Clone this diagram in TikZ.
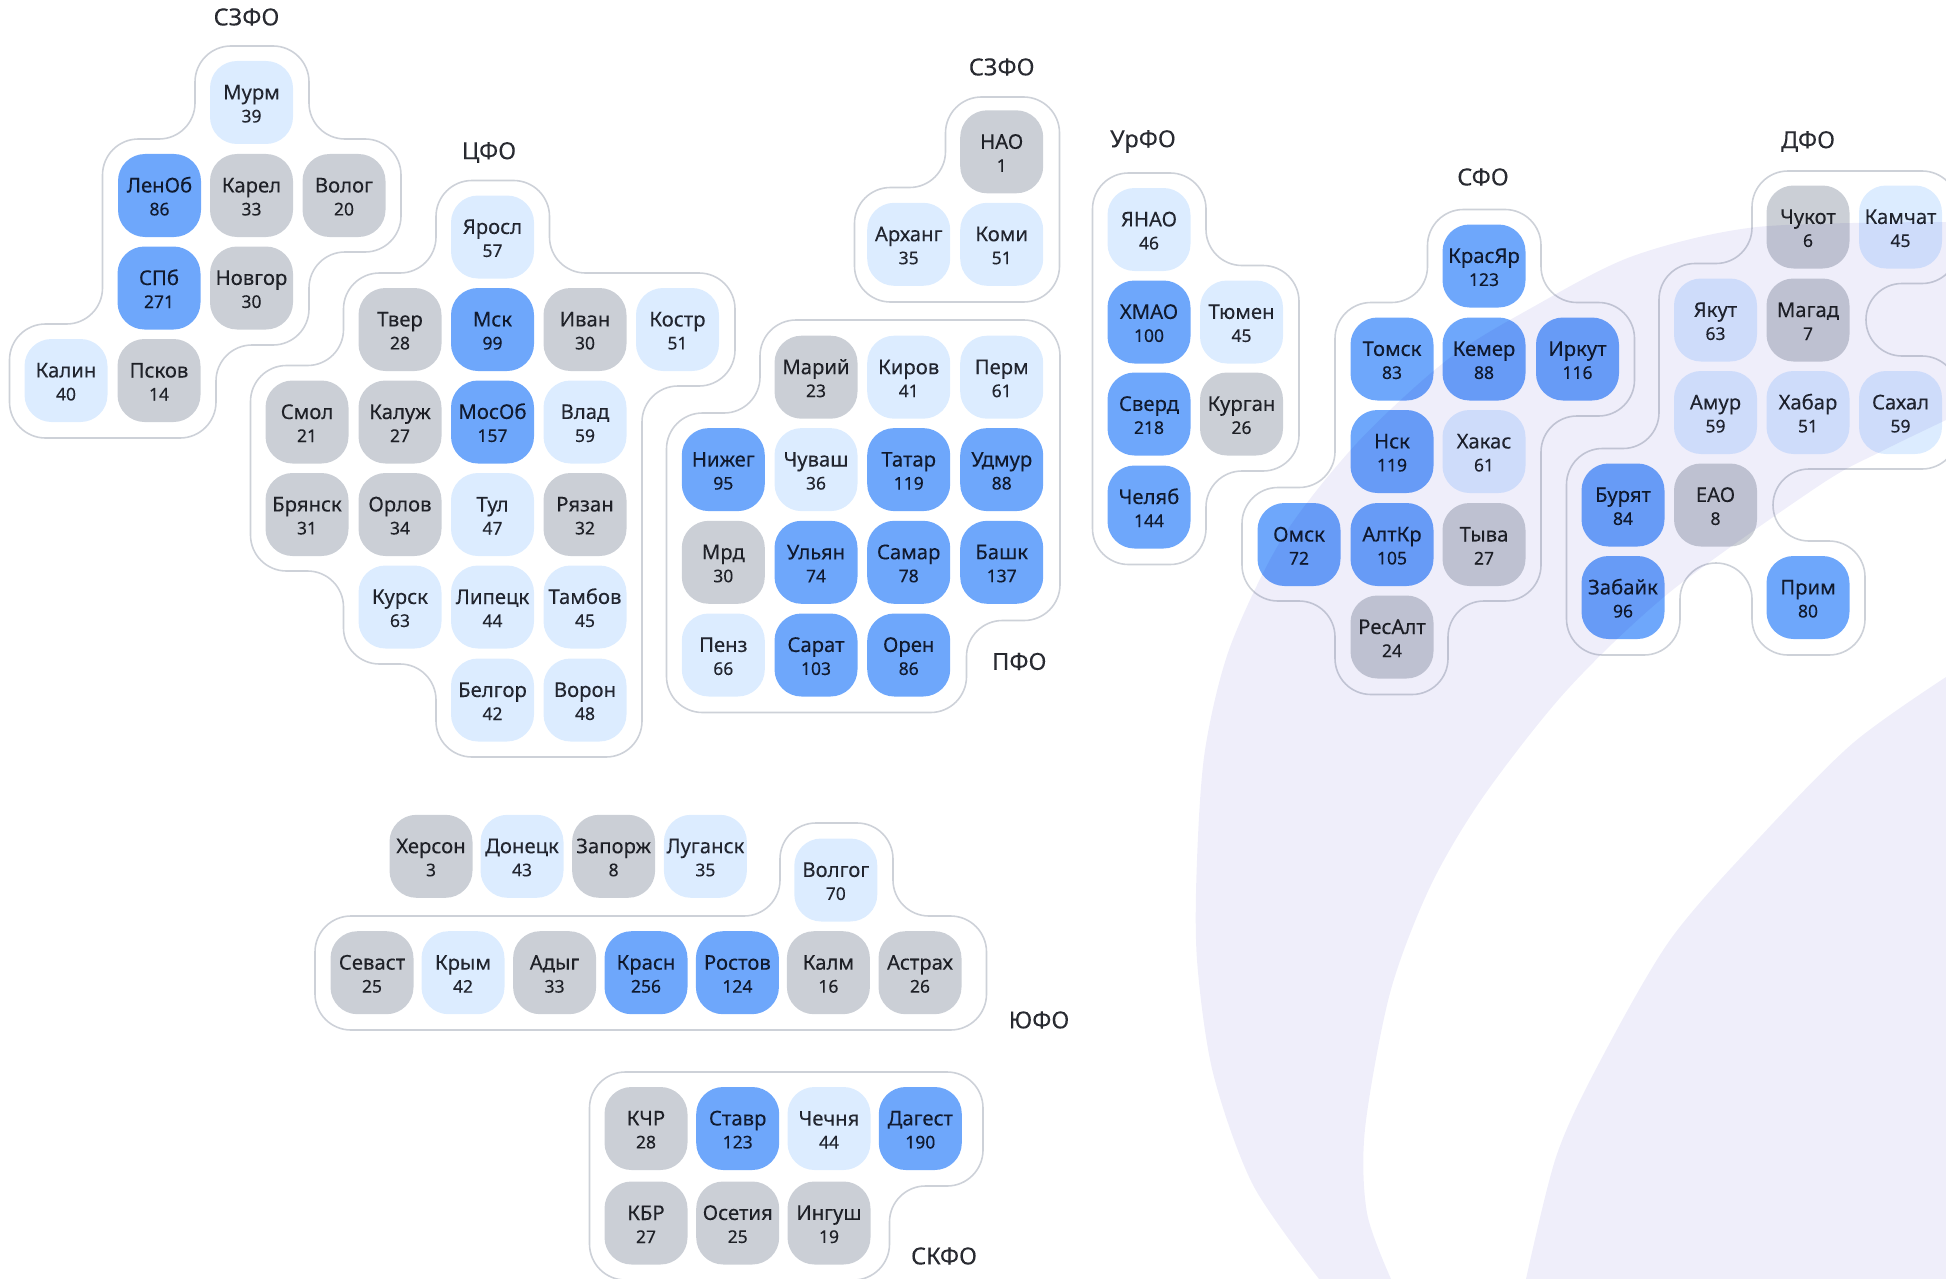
\documentclass[tikz,border=0pt]{standalone}
\usepackage{fontspec}
\setmainfont{Noto Sans}[FakeBold=0.12]
\definecolor{txt}{HTML}{2A2C33}
\definecolor{band}{HTML}{EFEEFA}
\definecolor{edge}{HTML}{CDD1D8}
\definecolor{tgray}{HTML}{CBCFD6}
\definecolor{tlight}{HTML}{DCECFF}
\definecolor{tblue}{HTML}{6EA7FB}
\tikzset{
  tile/.style={rectangle,rounded corners=27pt,inner sep=0pt,minimum width=83pt,minimum height=83pt,
    text=txt,align=center,font=\fontsize{20.3}{23}\selectfont},
  gr/.style={tile,fill=tgray},
  lt/.style={tile,fill=tlight},
  bl/.style={tile,fill=tblue},
  region/.style={draw=edge,line width=1.6pt,rounded corners=36pt},
  fo/.style={text=txt,inner sep=0pt,font=\fontsize{23.5}{26}\selectfont}
}
\newcommand{\tl}[6]{\node[#4] (#1) at (#2,#3) {\rule{0pt}{17pt}#5\\{\fontsize{17.5}{23}\selectfont #6}};}
\begin{document}
\begin{tikzpicture}[x=1pt,y=-1pt]
\useasboundingbox (0,0) rectangle (1946,1279);
\clip (0,0) rectangle (1946,1279);
% background bands
\fill[band] plot[smooth] coordinates {(1946,222)(1757,227)(1633,256)(1533,307)(1447,360)(1357,443)(1283,537)(1230,647)(1205,750)(1197,860)(1197,960)(1213,1073)(1253,1185)(1319,1279)}
  -- plot[smooth] coordinates {(1391,1279)(1367,1213)(1365,1129)(1390,993)(1430,887)(1483,797)(1567,690)(1670,592)(1820,485)(1880,452)(1946,420)} -- cycle;
\fill[band] plot[smooth] coordinates {(1946,677)(1853,743)(1760,837)(1670,940)(1597,1067)(1556,1157)(1526,1279)} -- (1946,1279) -- cycle;
\begin{scope}[blend mode=multiply]
% region outlines
\draw[region] (251.5,46)--(309,46)--(309,139)--(401,139)--(401,252)--(309,252)--(309,345)--(216,345)--(216,438)--(9.5,438)--(9.5,324)--(102.5,324)--(102.5,139)--(195,139)--(195,46)--(251.5,46);
\draw[region] (492.5,180.5)--(549.5,180.5)--(549.5,273)--(735,273)--(735,386)--(642,386)--(642,757)--(436,757)--(436,664)--(343.5,664)--(343.5,571)--(250.5,571)--(250.5,365.5)--(343.5,365.5)--(343.5,273)--(436,273)--(436,180.5)--(492.5,180.5);
\draw[region] (1001,97)--(1059.5,97)--(1059.5,302)--(854.5,302)--(854.5,187.5)--(945.5,187.5)--(945.5,97)--(1001,97);
\draw[region] (908,320)--(1060,320)--(1060,620.5)--(966.5,620.5)--(966.5,712.5)--(666.5,712.5)--(666.5,413)--(760,413)--(760,320)--(908,320);
\draw[region] (1149,173)--(1206,173)--(1206,265.5)--(1299,265.5)--(1299,471)--(1206,471)--(1206,564.5)--(1092.5,564.5)--(1092.5,173)--(1149,173);
\draw[region] (1484,209.5)--(1541,209.5)--(1541,302.5)--(1634.5,302.5)--(1634.5,416)--(1541,416)--(1541,601)--(1448,601)--(1448,694.5)--(1335,694.5)--(1335,601)--(1242,601)--(1242,487.5)--(1335,487.5)--(1335,302.5)--(1427.5,302.5)--(1427.5,209.5)--(1484,209.5);
\draw[region] (1850,171)--(1958,171)--(1958,283.5)--(1866,283.5)--(1866,356)--(1958,356)--(1958,469)--(1773,469)--(1773,541)--(1865,541)--(1865,655)--(1752,655)--(1752,563)--(1680,563)--(1680,655)--(1566.5,655)--(1566.5,448.5)--(1659,448.5)--(1659,263.5)--(1752,263.5)--(1752,171)--(1850,171);
\draw[region] (836,823)--(893,823)--(893,916)--(986.5,916)--(986.5,1030)--(315,1030)--(315,916)--(780,916)--(780,823)--(836,823);
\draw[region] (700,1072)--(983,1072)--(983,1186)--(889.5,1186)--(889.5,1280)--(589.5,1280)--(589.5,1072)--(700,1072);
% СЗФО
\tl{murm}{251.5}{102.5}{lt}{Мурм}{39}
\tl{lenob}{159.5}{195.5}{bl}{ЛенОб}{86}
\tl{karel}{251.5}{195.5}{gr}{Карел}{33}
\tl{volog}{344}{195.5}{gr}{Волог}{20}
\tl{spb}{159}{288}{bl}{СПб}{271}
\tl{novgor}{251.5}{288}{gr}{Новгор}{30}
\tl{kalin}{66}{380.5}{lt}{Калин}{40}
\tl{pskov}{159}{380.5}{gr}{Псков}{14}
% ЦФО
\tl{yarosl}{492.5}{237}{lt}{Яросл}{57}
\tl{tver}{400}{329.5}{gr}{Твер}{28}
\tl{msk}{492.5}{329.5}{bl}{Мск}{99}
\tl{ivan}{585}{329.5}{gr}{Иван}{30}
\tl{kostr}{677.5}{329.5}{lt}{Костр}{51}
\tl{smol}{307}{422}{gr}{Смол}{21}
\tl{kaluzh}{400}{422}{gr}{Калуж}{27}
\tl{mosob}{492.5}{422}{bl}{МосОб}{157}
\tl{vlad}{585}{422}{lt}{Влад}{59}
\tl{bryansk}{307}{514.5}{gr}{Брянск}{31}
\tl{orlov}{400}{514.5}{gr}{Орлов}{34}
\tl{tul}{492.5}{514.5}{lt}{Тул}{47}
\tl{ryazan}{585}{514.5}{gr}{Рязан}{32}
\tl{kursk}{400}{607}{lt}{Курск}{63}
\tl{lipetsk}{492.5}{607}{lt}{Липецк}{44}
\tl{tambov}{585}{607}{lt}{Тамбов}{45}
\tl{belgor}{492.5}{700}{lt}{Белгор}{42}
\tl{voron}{585}{700}{lt}{Ворон}{48}
% СЗФО north
\tl{nao}{1001.7}{151.8}{gr}{НАО}{1}
\tl{arhang}{908.7}{244.3}{lt}{Арханг}{35}
\tl{komi}{1001.7}{244.3}{lt}{Коми}{51}
% ПФО
\tl{mariy}{816}{377.2}{gr}{Марий}{23}
\tl{kirov}{908.7}{377.2}{lt}{Киров}{41}
\tl{perm}{1001.7}{377.2}{lt}{Перм}{61}
\tl{nizheg}{723.3}{469.6}{bl}{Нижег}{95}
\tl{chuvash}{816}{469.6}{lt}{Чуваш}{36}
\tl{tatar}{908.7}{469.6}{bl}{Татар}{119}
\tl{udmur}{1001.7}{469.6}{bl}{Удмур}{88}
\tl{mrd}{723.3}{562.3}{gr}{Мрд}{30}
\tl{ulyan}{816}{562.3}{bl}{Ульян}{74}
\tl{samar}{908.7}{562.3}{bl}{Самар}{78}
\tl{bashk}{1001.7}{562.3}{bl}{Башк}{137}
\tl{penz}{723.3}{655}{lt}{Пенз}{66}
\tl{sarat}{816}{655}{bl}{Сарат}{103}
\tl{oren}{908.7}{655}{bl}{Орен}{86}
% УрФО
\tl{yanao}{1149}{229.5}{lt}{ЯНАО}{46}
\tl{hmao}{1149}{322}{bl}{ХМАО}{100}
\tl{tyumen}{1241.5}{322}{lt}{Тюмен}{45}
\tl{sverd}{1149}{414}{bl}{Сверд}{218}
\tl{kurgan}{1241.5}{414}{gr}{Курган}{26}
\tl{chelyab}{1149}{507}{bl}{Челяб}{144}
% СФО
\tl{krasyar}{1484}{266}{bl}{КрасЯр}{123}
\tl{tomsk}{1392}{359}{bl}{Томск}{83}
\tl{kemer}{1484}{359}{bl}{Кемер}{88}
\tl{irkut}{1577.5}{359}{bl}{Иркут}{116}
\tl{nsk}{1392}{451.5}{bl}{Нск}{119}
\tl{hakas}{1484}{451.5}{lt}{Хакас}{61}
\tl{omsk}{1299}{544.5}{bl}{Омск}{72}
\tl{altkr}{1392}{544.5}{bl}{АлтКр}{105}
\tl{tyva}{1484}{544.5}{gr}{Тыва}{27}
\tl{resalt}{1392}{637}{gr}{РесАлт}{24}
% ДФО
\tl{chukot}{1808}{227}{gr}{Чукот}{6}
\tl{kamchat}{1900.5}{227}{lt}{Камчат}{45}
\tl{yakut}{1715.5}{320}{lt}{Якут}{63}
\tl{magad}{1808}{320}{gr}{Магад}{7}
\tl{amur}{1715.5}{412.5}{lt}{Амур}{59}
\tl{habar}{1808}{412.5}{lt}{Хабар}{51}
\tl{sahal}{1900.5}{412.5}{lt}{Сахал}{59}
\tl{buryat}{1623}{505}{bl}{Бурят}{84}
\tl{eao}{1715.5}{505}{gr}{ЕАО}{8}
\tl{zabayk}{1623}{597.5}{bl}{Забайк}{96}
\tl{prim}{1808}{597.5}{bl}{Прим}{80}
% ЮФО
\tl{herson}{431}{856.3}{gr}{Херсон}{3}
\tl{donetsk}{522}{856.3}{lt}{Донецк}{43}
\tl{zaporzh}{613.6}{856.3}{gr}{Запорж}{8}
\tl{lugansk}{705.4}{856.3}{lt}{Луганск}{35}
\tl{volgog}{835.8}{880}{lt}{Волгог}{70}
\tl{sevast}{372}{972.7}{gr}{Севаст}{25}
\tl{krym}{463}{972.7}{lt}{Крым}{42}
\tl{adyg}{554.6}{972.7}{gr}{Адыг}{33}
\tl{krasn}{646}{972.7}{bl}{Красн}{256}
\tl{rostov}{737.4}{972.7}{bl}{Ростов}{124}
\tl{kalm}{828.4}{972.7}{gr}{Калм}{16}
\tl{astrah}{920}{972.7}{gr}{Астрах}{26}
% СКФО
\tl{kchr}{646}{1128.5}{gr}{КЧР}{28}
\tl{stavr}{737.7}{1128.5}{bl}{Ставр}{123}
\tl{chechnya}{829}{1128.5}{lt}{Чечня}{44}
\tl{dagest}{920.3}{1128.5}{bl}{Дагест}{190}
\tl{kbr}{646}{1223}{gr}{КБР}{27}
\tl{osetiya}{737.7}{1223}{gr}{Осетия}{25}
\tl{ingush}{829}{1223}{gr}{Ингуш}{19}
% district labels
\node[fo] (l1) at (246.5,17) {СЗФО};
\node[fo] (l2) at (489,152.5) {ЦФО};
\node[fo] (l3) at (1001.7,67) {СЗФО};
\node[fo] (l4) at (1143,141.5) {УрФО};
\node[fo] (l5) at (1483,177) {СФО};
\node[fo] (l6) at (1808,141.5) {ДФО};
\node[fo] (l7) at (1019.3,661.5) {ПФО};
\node[fo] (l8) at (1039,1020) {ЮФО};
\node[fo] (l9) at (944,1256) {СКФО};
\end{scope}
\end{tikzpicture}
\end{document}
